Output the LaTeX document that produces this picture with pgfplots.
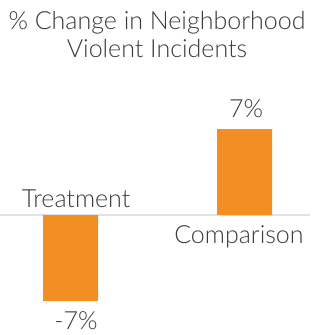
\documentclass[border=0pt]{standalone}
\usepackage{pgfplots}
\pgfplotsset{compat=1.18}
\usepackage{fontspec}
\setmainfont{Lato}[UprightFont=* Light]
\definecolor{barorange}{HTML}{F28E23}
\definecolor{txt}{HTML}{3A3A3A}
\definecolor{zline}{HTML}{E2E2E2}
\begin{document}
\begin{tikzpicture}
\begin{axis}[
  width=314pt, height=335pt, scale only axis,
  xmin=-0.4052, xmax=1.3994,
  ymin=-9.767, ymax=17.5,
  hide axis,
  clip=false,
  ybar, bar width=55pt,
]
\draw[zline, line width=1.6pt] (axis cs:-0.4052,0) -- (axis cs:1.376,0);
\addplot[fill=barorange, draw=none, bar shift=0pt] coordinates {(0,-7) (1,7)};
\begin{scope}[every node/.style={text=txt, font=\fontsize{25}{30}\selectfont, anchor=base, inner sep=0pt}]
\node at (axis cs:0.497,15.06) {\% Change in Neighborhood};
\node at (axis cs:0.497,12.78) {Violent Incidents};
\node at (axis cs:0.032,0.57) {Treatment};
\node at (axis cs:0.968,-2.28) {Comparison};
\node at (axis cs:1.009,7.90) {7\%};
\node at (axis cs:0.032,-9.33) {-7\%};
\end{scope}
\end{axis}
\pgfresetboundingbox
\path[use as bounding box] (current axis.south west) rectangle (current axis.north east);
\end{tikzpicture}
\end{document}
